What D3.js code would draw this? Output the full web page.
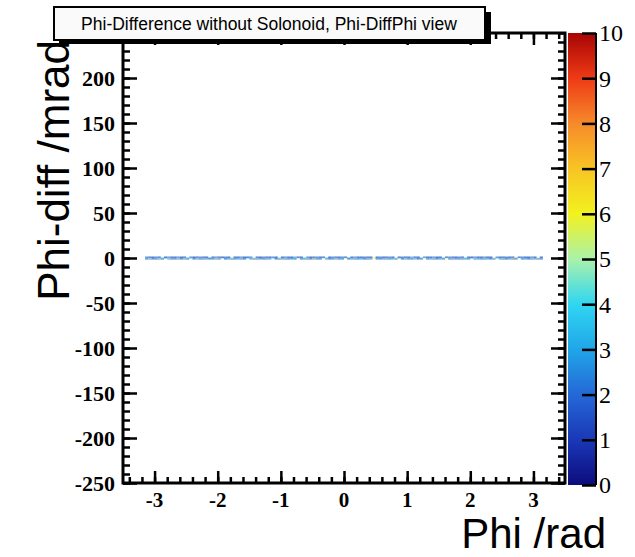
<!DOCTYPE html>
<html><head><meta charset="utf-8">
<script src="https://cdn.jsdelivr.net/npm/d3@7"></script>
<style>body{margin:0;background:#fff}svg{display:block}</style>
</head><body>
<svg id="c" width="635" height="557"></svg>
<script>
const titleText = "Phi-Difference without Solonoid, Phi-DiffPhi view";
const xTitle = "Phi /rad";
const yTitle = "Phi-diff /mrad";
const xDomain = [-3.5, 3.5];
const yDomain = [-250, 250];
const zDomain = [0, 10];
const xMajorTicks = [-3, -2, -1, 0, 1, 2, 3];
const yMajorTicks = [-250, -200, -150, -100, -50, 0, 50, 100, 150, 200];
const zMajorTicks = [0, 1, 2, 3, 4, 5, 6, 7, 8, 9, 10];
const paletteStops = [0, 1, 2, 3, 4, 5, 6, 7, 8, 9, 10];
const paletteColors = ["#0c0c7c","#1a38b8","#2468d6","#20a6e8","#30d6f2","#aaf2aa","#f2f21e","#f8c424","#f68a2a","#ee3a16","#a80404"];
// 2D histogram: x bins of 0.05 rad starting at -3.15; y rows (mrad bin centres)
const xBinStart = -3.15, xBinWidth = 0.05;
const yRows = [-1, 0, 1];
const yBinWidth = 1;
const rowLow = [1,2,1,1,2,1,0,2,1,1,2,1,2,1,0,1,2,1,1,2,1,1,2,1,0,1,2,1,1,2,
1,1,0,2,1,1,2,1,1,2,0,1,1,2,1,1,2,1,0,1,2,1,1,2,1,1,0,2,1,1,
2,1,1,0,1,2,1,1,2,1,1,2,0,1,1,2,1,1,2,1,0,1,2,1,1,2,1,1,0,1,
2,1,1,2,1,0,1,1,2,1,1,2,1,0,1,2,1,1,2,1,1,0,2,1,1,2,1,1,0,1,
2,1,1,2,1,1];
const rowMid = [4,5,3,4,5,4,3,5,4,4,5,3,5,4,4,3,5,4,5,4,3,4,5,5,4,3,4,5,4,4,
5,3,4,4,5,5,3,4,5,4,4,3,5,4,5,4,3,4,5,4,4,5,3,6,4,4,5,4,3,4,
5,4,4,5,3,4,5,4,4,3,5,4,6,4,3,4,5,4,4,5,4,3,5,4,4,5,3,4,5,4,
4,5,3,4,4,5,4,5,3,4,5,4,4,3,5,4,4,5,4,3,5,4,4,5,3,4,6,4,5,4,
4,3,5,4,5,4];
const rowHigh = [2,1,1,2,1,0,1,2,1,1,2,1,1,0,2,1,1,2,1,1,0,1,2,1,1,2,1,0,1,1,
2,1,1,2,0,1,1,2,1,1,2,1,0,1,2,1,1,3,1,1,0,2,1,1,2,1,1,0,1,2,
1,1,2,1,0,1,2,1,1,2,1,1,0,1,2,1,1,2,1,0,1,2,1,1,3,1,1,0,2,1,
1,2,1,1,0,1,2,1,1,2,1,0,1,1,2,1,1,2,1,1,0,2,1,1,2,1,1,0,1,2,
1,1,2,1,0,1];
const rows = [rowLow, rowMid, rowHigh];

const svg = d3.select("#c");
const L = 123, R = 565, T = 33, B = 483;
const x = d3.scaleLinear().domain(xDomain).range([L, R]);
const y = d3.scaleLinear().domain(yDomain).range([B, T]);
const color = d3.scaleLinear().domain(paletteStops).range(paletteColors).clamp(true);

// cells
const cells = [];
rows.forEach((row, ri) => row.forEach((v, i) => {
  if (v > 0) cells.push({x0: xBinStart + i * xBinWidth, y0: yRows[ri] - yBinWidth / 2, v});
}));
svg.append("g").selectAll("rect").data(cells).join("rect")
  .attr("x", d => x(d.x0)).attr("width", d => x(d.x0 + xBinWidth) - x(d.x0))
  .attr("y", d => y(d.y0 + yBinWidth)).attr("height", d => y(d.y0) - y(d.y0 + yBinWidth))
  .attr("fill", d => color(d.v));

// axes helpers
const serif = "'Liberation Serif','Times New Roman',serif";
function minorTicks(dom, step) {
  const out = [];
  for (let v = Math.ceil(dom[0] / step - 1e-9) * step; v <= dom[1] + 1e-9; v += step) out.push(+v.toFixed(6));
  return out;
}
function styleAxis(g) {
  g.select(".domain").remove();
  g.selectAll(".tick line").attr("stroke", "#000").attr("stroke-width", 2.5);
}
// bottom (ticks inward = up)
svg.append("g").attr("transform", `translate(0,${B})`)
  .call(d3.axisTop(x).tickValues(minorTicks(xDomain, 0.2)).tickSize(6).tickFormat("")).call(styleAxis);
svg.append("g").attr("transform", `translate(0,${B})`)
  .call(d3.axisTop(x).tickValues(xMajorTicks).tickSize(12).tickFormat("")).call(styleAxis);
// top
svg.append("g").attr("transform", `translate(0,${T})`)
  .call(d3.axisBottom(x).tickValues(minorTicks(xDomain, 0.2)).tickSize(6).tickFormat("")).call(styleAxis);
svg.append("g").attr("transform", `translate(0,${T})`)
  .call(d3.axisBottom(x).tickValues(xMajorTicks).tickSize(12).tickFormat("")).call(styleAxis);
// left
svg.append("g").attr("transform", `translate(${L},0)`)
  .call(d3.axisRight(y).tickValues(minorTicks(yDomain, 10)).tickSize(7).tickFormat("")).call(styleAxis);
svg.append("g").attr("transform", `translate(${L},0)`)
  .call(d3.axisRight(y).tickValues(yMajorTicks).tickSize(14).tickFormat("")).call(styleAxis);
// right
svg.append("g").attr("transform", `translate(${R},0)`)
  .call(d3.axisLeft(y).tickValues(minorTicks(yDomain, 10)).tickSize(7).tickFormat("")).call(styleAxis);
svg.append("g").attr("transform", `translate(${R},0)`)
  .call(d3.axisLeft(y).tickValues(yMajorTicks).tickSize(14).tickFormat("")).call(styleAxis);

// frame
svg.append("rect").attr("x", L).attr("y", T).attr("width", R - L).attr("height", B - T)
  .attr("fill", "none").attr("stroke", "#000").attr("stroke-width", 3);

// tick labels
svg.append("g").selectAll("text").data(xMajorTicks).join("text")
  .attr("x", d => x(d)).attr("y", 507).attr("text-anchor", "middle")
  .attr("font-family", serif).attr("font-weight", "bold").attr("font-size", 21)
  .text(d => d);
svg.append("g").selectAll("text").data(yMajorTicks).join("text")
  .attr("x", 115).attr("y", d => y(d)).attr("dy", "0.35em").attr("text-anchor", "end")
  .attr("font-family", serif).attr("font-weight", "bold").attr("font-size", 22)
  .text(d => d);

// colour bar
const CL = 568, CR = 596, CT = 33, CB = 485;
const z = d3.scaleLinear().domain(zDomain).range([CB, CT]);
const grad = svg.append("defs").append("linearGradient").attr("id", "pal")
  .attr("x1", 0).attr("y1", 1).attr("x2", 0).attr("y2", 0);
grad.selectAll("stop").data(paletteStops).join("stop")
  .attr("offset", (d) => (d - zDomain[0]) / (zDomain[1] - zDomain[0]))
  .attr("stop-color", (d, i) => paletteColors[i]);
svg.append("rect").attr("x", CL).attr("y", CT).attr("width", CR - CL).attr("height", CB - CT)
  .attr("fill", "url(#pal)");
svg.append("line").attr("x1", CR).attr("x2", CR).attr("y1", CT).attr("y2", CB)
  .attr("stroke", "#000").attr("stroke-width", 2);
svg.append("g").attr("transform", `translate(${CR},0)`)
  .call(d3.axisLeft(z).tickValues(zMajorTicks).tickSize(14).tickFormat("")).call(styleAxis);
svg.append("g").selectAll("text").data(zMajorTicks).join("text")
  .attr("x", 599).attr("y", d => z(d)).attr("dy", "0.35em")
  .attr("font-family", serif).attr("font-size", 24)
  .text(d => d);

// axis titles
const sans = "'Liberation Sans',Arial,Helvetica,sans-serif";
svg.append("text").attr("x", 606).attr("y", 548).attr("text-anchor", "end")
  .attr("font-family", sans).attr("font-size", 42).text(xTitle);
svg.append("text").attr("transform", "translate(69,40) rotate(-90)").attr("text-anchor", "end")
  .attr("font-family", sans).attr("font-size", 44).text(yTitle);

// title box with shadow
svg.append("rect").attr("x", 59).attr("y", 12).attr("width", 432).attr("height", 32).attr("fill", "#000");
svg.append("rect").attr("x", 54).attr("y", 7).attr("width", 431).attr("height", 33)
  .attr("fill", "#fafafa").attr("stroke", "#000").attr("stroke-width", 2);
svg.append("text").attr("x", 269).attr("y", 30).attr("text-anchor", "middle")
  .attr("font-family", sans).attr("font-size", 17.5).text(titleText);
</script>
</body></html>
